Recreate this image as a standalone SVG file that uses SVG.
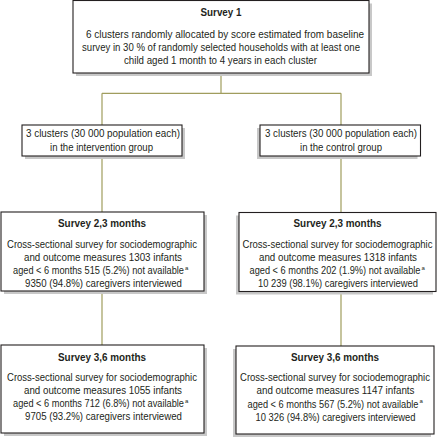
<svg xmlns="http://www.w3.org/2000/svg" width="445" height="437" viewBox="0 0 445 437">
<style>
.box{fill:#fff;stroke:#231f20;stroke-width:1.1}
.sh{fill:#c8c8c8;stroke:none}
.con{fill:none;stroke:#a09d5e;stroke-width:1.2}
text{font-family:"Liberation Sans Narrow","Liberation Sans",Arial,sans-serif;font-size:10.5px;fill:#231f20}
.c{text-anchor:middle}
.h{font-weight:bold}
.sup{font-size:6px}
</style>
<rect width="445" height="437" fill="#fff"/>
<g id="connectors">
<path class="con" d="M221 73V93.3M102 93.3H341M102 93.3V125M341 93.3V125M102 156V212M341 156V212.5M102 291V345M341 291.5V346"/>
</g>
<g id="survey1">
<rect class="sh" x="76" y="3.5" width="296" height="72.5"/>
<rect class="box" x="73" y="0.5" width="296" height="72.5"/>
<text class="c h" x="221" y="15.5" textLength="41" lengthAdjust="spacingAndGlyphs">Survey 1</text>
<text class="c" x="225" y="37.5" textLength="278" lengthAdjust="spacingAndGlyphs">6 clusters randomly allocated by score estimated from baseline</text>
<text class="c" x="221" y="50.5" textLength="278" lengthAdjust="spacingAndGlyphs">survey in 30 % of randomly selected households with at least one</text>
<text class="c" x="220.5" y="63.5" textLength="193" lengthAdjust="spacingAndGlyphs">child aged 1 month to 4 years in each cluster</text>
</g>
<g id="intervention">
<rect class="sh" x="25" y="128" width="160" height="31"/>
<rect class="box" x="22" y="125" width="160" height="31"/>
<text class="c" x="103" y="137" textLength="154" lengthAdjust="spacingAndGlyphs">3 clusters (30 000 population each)</text>
<text class="c" x="101.5" y="150.5" textLength="103" lengthAdjust="spacingAndGlyphs">in the intervention group</text>
</g>
<g id="control">
<rect class="sh" x="257" y="128" width="160.5" height="31"/>
<rect class="box" x="260" y="125" width="160.5" height="31"/>
<text class="c" x="341" y="137" textLength="152" lengthAdjust="spacingAndGlyphs">3 clusters (30 000 population each)</text>
<text class="c" x="341" y="150.5" textLength="82" lengthAdjust="spacingAndGlyphs">in the control group</text>
</g>
<g id="s2-left">
<rect class="sh" x="4" y="215" width="203" height="79"/>
<rect class="box" x="1" y="212" width="203" height="79"/>
<text class="c h" x="102" y="226.5" textLength="88" lengthAdjust="spacingAndGlyphs">Survey 2,3 months</text>
<text class="c" x="102" y="247.5" textLength="190" lengthAdjust="spacingAndGlyphs">Cross-sectional survey for sociodemographic</text>
<text class="c" x="103" y="260.8" textLength="158" lengthAdjust="spacingAndGlyphs">and outcome measures 1303 infants</text>
<text x="13" y="274.1" textLength="171" lengthAdjust="spacingAndGlyphs">aged &lt; 6 months 515 (5.2%) not available</text>
<text class="sup" x="185" y="269.5">a</text>
<text class="c" x="103.5" y="287.2" textLength="157" lengthAdjust="spacingAndGlyphs">9350 (94.8%) caregivers interviewed</text>
</g>
<g id="s2-right">
<rect class="sh" x="236" y="215.5" width="197" height="79"/>
<rect class="box" x="239" y="212.5" width="197" height="79"/>
<text class="c h" x="337.5" y="226.5" textLength="88" lengthAdjust="spacingAndGlyphs">Survey 2,3 months</text>
<text class="c" x="337.5" y="247.5" textLength="190" lengthAdjust="spacingAndGlyphs">Cross-sectional survey for sociodemographic</text>
<text class="c" x="338" y="260.8" textLength="158" lengthAdjust="spacingAndGlyphs">and outcome measures 1318 infants</text>
<text x="249.5" y="274.1" textLength="171" lengthAdjust="spacingAndGlyphs">aged &lt; 6 months 202 (1.9%) not available</text>
<text class="sup" x="421.5" y="269.5">a</text>
<text class="c" x="338" y="287.2" textLength="160" lengthAdjust="spacingAndGlyphs">10 239 (98.1%) caregivers interviewed</text>
</g>
<g id="s3-left">
<rect class="sh" x="4" y="348" width="203" height="88"/>
<rect class="box" x="1" y="345" width="203" height="88"/>
<text class="c h" x="102" y="360.5" textLength="88" lengthAdjust="spacingAndGlyphs">Survey 3,6 months</text>
<text class="c" x="102" y="380.5" textLength="190" lengthAdjust="spacingAndGlyphs">Cross-sectional survey for sociodemographic</text>
<text class="c" x="103" y="393.8" textLength="158" lengthAdjust="spacingAndGlyphs">and outcome measures 1055 infants</text>
<text x="13" y="407.1" textLength="171" lengthAdjust="spacingAndGlyphs">aged &lt; 6 months 712 (6.8%) not available</text>
<text class="sup" x="185" y="402.5">a</text>
<text class="c" x="103.5" y="420.4" textLength="157" lengthAdjust="spacingAndGlyphs">9705 (93.2%) caregivers interviewed</text>
</g>
<g id="s3-right">
<rect class="sh" x="233" y="349" width="198" height="88"/>
<rect class="box" x="236" y="346" width="198" height="88"/>
<text class="c h" x="335" y="361" textLength="88" lengthAdjust="spacingAndGlyphs">Survey 3,6 months</text>
<text class="c" x="335" y="381" textLength="190" lengthAdjust="spacingAndGlyphs">Cross-sectional survey for sociodemographic</text>
<text class="c" x="335.5" y="394.3" textLength="158" lengthAdjust="spacingAndGlyphs">and outcome measures 1147 infants</text>
<text x="247.5" y="407.6" textLength="171" lengthAdjust="spacingAndGlyphs">aged &lt; 6 months 567 (5.2%) not available</text>
<text class="sup" x="419.5" y="403">a</text>
<text class="c" x="335.5" y="420.9" textLength="160" lengthAdjust="spacingAndGlyphs">10 326 (94.8%) caregivers interviewed</text>
</g>
</svg>
